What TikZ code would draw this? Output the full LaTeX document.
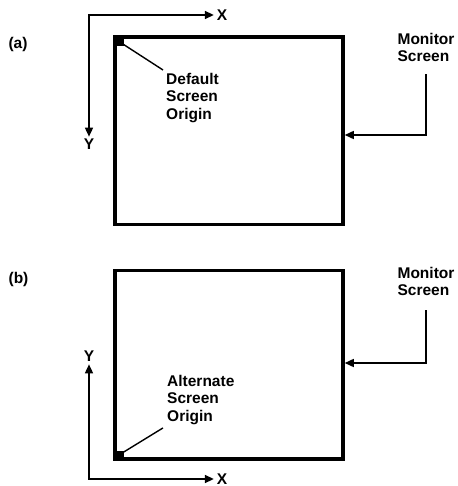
\documentclass[tikz,border=0pt]{standalone}
\usepackage{fontspec}
\setmainfont{Liberation Sans}
\usetikzlibrary{arrows.meta,positioning}
\tikzset{
  >={Triangle[length=9pt,width=8pt]},
  screen/.style={draw,line width=3.5pt,inner sep=0pt,minimum width=228pt,minimum height=#1},
  screen/.default=187.5pt,
  axis/.style={<->,line width=1.6pt},
  lead/.style={line width=1.4pt},
  lbl/.style={font=\fontsize{15.5}{17.5}\selectfont\bfseries,inner sep=0pt,align=left},
  tagname/.style={lbl,outer sep=#1},
  tagname/.default=3pt,
  corner/.style={fill,minimum size=7pt,inner sep=0pt},
}
\begin{document}
\begin{tikzpicture}[x=1pt,y=-1pt]
  \useasboundingbox (0,0) rectangle (457,486);
  % (a) default origin
  \node[lbl] (tagA) at (18,44) {(a)};
  \node[screen] (scrA) at (229,130.75) {};
  \node[corner] (oA) at (120.5,42.5) {};
  \node[tagname=3pt] (xA) at (222,15) {X};
  \node[tagname=2pt] (yA) at (89,144) {Y};
  \draw[axis] (yA) |- (xA);
  \node[lbl,anchor=north west] (defA) at (166,73) {Default\\Screen\\Origin};
  \draw[lead] (oA.center) -- ([shift={(-3,-3)}]defA.north west);
  \node[lbl,anchor=north] (monA) at (426,33) {Monitor\\Screen};
  \coordinate (hitA) at (343,135);
  \draw[lead,->] ([shift={(0,12)}]monA.south) |- (scrA.east |- hitA);
  % (b) alternate origin
  \node[lbl] (tagB) at (18.5,279) {(b)};
  \node[screen=188.5pt] (scrB) at (229,364.75) {};
  \node[corner] (oB) at (120.5,454) {};
  \node[tagname=3pt] (xB) at (222,479) {X};
  \node[tagname=3pt] (yB) at (89,356) {Y};
  \draw[axis] (yB) |- (xB);
  \node[lbl,anchor=north west] (altB) at (167,375) {Alternate\\Screen\\Origin};
  \draw[lead] (oB.center) -- ([shift={(-4,3)}]altB.south west);
  \node[lbl,anchor=north] (monB) at (426,267) {Monitor\\Screen};
  \coordinate (hitB) at (343,363);
  \draw[lead,->] ([shift={(0,14)}]monB.south) |- (scrB.east |- hitB);
\end{tikzpicture}
\end{document}
